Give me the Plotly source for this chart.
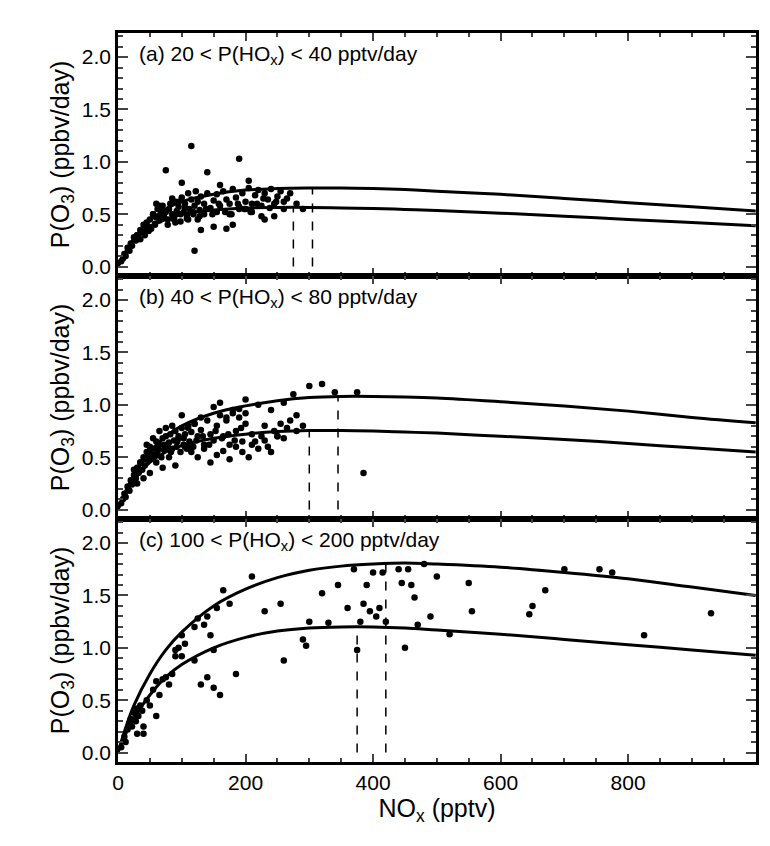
import plotly.graph_objects as go
from plotly.subplots import make_subplots

# curve x grid (pptv)
curve_x = [0, 10, 25, 50, 75, 100, 150, 200, 250, 300, 350, 400, 450, 500, 600, 700, 800, 900, 1000]

# panel (a) 20 < P(HOx) < 40
a_up = [0.0, 0.12, 0.27, 0.44, 0.55, 0.62, 0.69, 0.73, 0.745, 0.75, 0.75, 0.745, 0.735, 0.72, 0.69, 0.65, 0.61, 0.57, 0.53]
a_lo = [0.0, 0.11, 0.24, 0.38, 0.45, 0.50, 0.54, 0.56, 0.565, 0.565, 0.56, 0.555, 0.545, 0.535, 0.51, 0.48, 0.45, 0.42, 0.39]
a_dash = [275, 305]
a_dash_top = [0.56, 0.75]
a_x = [5, 8, 10, 12, 15, 18, 20, 22, 25, 28, 30, 32, 35, 38, 40, 42, 45, 48, 50, 52, 55, 58, 60, 62, 65, 68, 70, 72, 75,
       78, 80, 82, 85, 88, 90, 92, 95, 98, 100, 103, 105, 108, 110, 112, 115, 118, 120, 122, 125, 128, 130, 135, 140,
       145, 150, 155, 160, 165, 170, 175, 180, 185, 190, 195, 200, 205, 210, 215, 220, 225, 230, 235, 240, 245, 250,
       255, 260, 265, 270, 280, 290, 75, 115, 190, 140, 205, 100, 160, 60, 40, 90, 130, 190, 120, 170, 150, 85, 110, 225,
       55, 65, 95, 135, 180, 210, 245, 30, 45, 70, 105, 125, 155, 175, 200, 230, 260,
       35, 48, 58, 68, 78, 88, 98, 108, 118, 128, 138, 148, 158, 168, 178, 188, 198, 208, 218, 228, 238, 248]
a_y = [0.05, 0.08, 0.12, 0.1, 0.18, 0.15, 0.22, 0.2, 0.28, 0.25, 0.3, 0.27, 0.35, 0.33, 0.4, 0.3, 0.42, 0.38, 0.45, 0.36,
       0.5, 0.41, 0.47, 0.55, 0.44, 0.5, 0.58, 0.48, 0.52, 0.45, 0.55, 0.6, 0.5, 0.47, 0.62, 0.53, 0.57, 0.43, 0.66, 0.52,
       0.6, 0.49, 0.7, 0.55, 0.64, 0.5, 0.58, 0.72, 0.62, 0.54, 0.67, 0.6, 0.7, 0.56, 0.63, 0.69, 0.58, 0.72, 0.64, 0.6,
       0.74, 0.66, 0.57, 0.7, 0.62, 0.75, 0.6, 0.68, 0.73, 0.58, 0.7, 0.64, 0.74, 0.6, 0.67, 0.72, 0.62, 0.65, 0.7, 0.6,
       0.55, 0.92, 1.15, 1.03, 0.9, 0.82, 0.8, 0.78, 0.6, 0.33, 0.42, 0.35, 0.55, 0.15, 0.36, 0.38, 0.65, 0.45, 0.48,
       0.5, 0.58, 0.62, 0.5, 0.4, 0.52, 0.48, 0.3, 0.36, 0.53, 0.56, 0.45, 0.52, 0.5, 0.55, 0.45, 0.55,
       0.26, 0.34, 0.4, 0.46, 0.4, 0.45, 0.5, 0.46, 0.52, 0.48, 0.55, 0.5, 0.6, 0.52, 0.5, 0.6, 0.55, 0.52, 0.6, 0.65,
       0.56, 0.62]

# panel (b) 40 < P(HOx) < 80
b_up = [0.0, 0.15, 0.33, 0.55, 0.7, 0.8, 0.92, 0.99, 1.04, 1.07, 1.08, 1.08, 1.075, 1.065, 1.03, 0.99, 0.94, 0.88, 0.83]
b_lo = [0.0, 0.13, 0.28, 0.45, 0.55, 0.61, 0.68, 0.72, 0.745, 0.755, 0.755, 0.75, 0.74, 0.73, 0.70, 0.67, 0.63, 0.59, 0.55]
b_dash = [300, 345]
b_dash_top = [0.755, 1.08]
b_x = [5, 8, 10, 12, 15, 18, 20, 22, 25, 28, 30, 32, 35, 38, 40, 42, 45, 48, 50, 52, 55, 58, 60, 62, 65, 68, 70, 72, 75,
       78, 80, 82, 85, 88, 90, 92, 95, 98, 100, 103, 105, 108, 110, 112, 115, 118, 120, 125, 130, 135, 140, 145, 150,
       155, 160, 165, 170, 175, 180, 185, 190, 195, 200, 210, 220, 230, 240, 250, 260, 270, 280, 290, 60, 70, 80, 90,
       45, 55, 65, 75, 85, 95, 105, 115, 125, 135, 145, 155, 165, 175, 185, 195, 205, 215, 225, 235, 245, 255, 265, 50,
       40, 30, 35, 25, 150, 160, 170, 180, 190, 200, 210, 220, 230, 250, 275, 300, 320, 340, 375, 385, 260, 280, 240,
       200, 130, 120, 110, 100,
       33, 43, 53, 63, 73, 83, 93, 103, 113, 123, 133, 143, 153, 163, 173, 183, 193]
b_y = [0.06, 0.1, 0.15, 0.12, 0.22, 0.18, 0.28, 0.24, 0.33, 0.3, 0.4, 0.35, 0.45, 0.38, 0.5, 0.42, 0.55, 0.47, 0.6,
       0.5, 0.58, 0.52, 0.65, 0.55, 0.62, 0.5, 0.68, 0.57, 0.7, 0.6, 0.64, 0.72, 0.58, 0.66, 0.75, 0.6, 0.7, 0.55, 0.78,
       0.62, 0.72, 0.58, 0.8, 0.65, 0.74, 0.6, 0.82, 0.7, 0.76, 0.62, 0.85, 0.72, 0.66, 0.8, 0.9, 0.7, 0.85, 0.62, 0.95,
       0.75, 0.88, 0.65, 0.92, 0.72, 1.0, 0.8, 0.95, 0.7, 1.02, 0.85, 0.9, 0.8, 0.45, 0.4, 0.5, 0.42, 0.62, 0.68, 0.75,
       0.78, 0.8, 0.68, 0.6, 0.55, 0.5, 0.58, 0.45, 0.52, 0.56, 0.48, 0.6, 0.55, 0.5, 0.65, 0.7, 0.6, 0.75, 0.82, 0.78,
       0.35, 0.3, 0.25, 0.45, 0.38, 0.98, 1.02, 0.88, 0.92, 0.96, 1.05, 0.62, 0.58, 0.66, 0.7, 1.1, 1.18, 1.2, 1.12, 1.12,
       0.35, 0.68, 0.75, 0.55, 0.82, 0.88, 0.82, 0.78, 0.9,
       0.36, 0.48, 0.52, 0.58, 0.62, 0.55, 0.65, 0.68, 0.6, 0.66, 0.7, 0.62, 0.75, 0.68, 0.72, 0.66, 0.78]

# panel (c) 100 < P(HOx) < 200
c_up = [0.0, 0.2, 0.45, 0.75, 0.98, 1.15, 1.4, 1.56, 1.67, 1.74, 1.78, 1.8, 1.81, 1.8, 1.77, 1.72, 1.66, 1.58, 1.5]
c_lo = [0.0, 0.15, 0.33, 0.55, 0.72, 0.84, 1.0, 1.1, 1.16, 1.19, 1.2, 1.2, 1.19, 1.17, 1.13, 1.08, 1.03, 0.98, 0.93]
c_dash = [375, 420]
c_dash_top = [1.2, 1.81]
c_x = [5, 10, 12, 15, 18, 20, 22, 25, 28, 30, 32, 35, 38, 40, 45, 50, 55, 60, 65, 70, 75, 80, 85, 90, 95, 100, 105, 120,
       125, 130, 135, 140, 145, 150, 155, 165, 175, 185, 210, 230, 255, 260, 290, 295, 300, 320, 330, 345, 360, 370,
       375, 380, 385, 390, 395, 400, 405, 410, 415, 420, 440, 445, 450, 455, 460, 465, 470, 480, 490, 500, 520, 550,
       555, 645, 650, 670, 700, 755, 775, 825, 930, 150, 140, 160, 120, 100, 90, 60, 40, 30]
c_y = [0.05, 0.15, 0.1, 0.22, 0.28, 0.32, 0.25, 0.38, 0.3, 0.42, 0.35, 0.45, 0.4, 0.18, 0.5, 0.45, 0.6, 0.68, 0.55, 0.7,
       0.72, 0.65, 0.75, 0.92, 1.0, 1.12, 1.04, 0.88, 1.28, 0.65, 1.22, 1.3, 1.12, 0.98, 1.38, 1.55, 1.42, 0.75, 1.68,
       1.35, 1.42, 0.88, 1.08, 1.02, 1.25, 1.52, 1.24, 1.6, 1.38, 1.75, 0.98, 1.25, 1.42, 1.6, 1.35, 1.72, 1.3, 1.38,
       1.72, 1.25, 1.75, 1.62, 1.0, 1.75, 1.6, 1.48, 1.22, 1.8, 1.3, 1.68, 1.13, 1.62, 1.35, 1.32, 1.4, 1.55, 1.75, 1.75,
       1.72, 1.12, 1.33, 0.62, 0.72, 0.55, 1.2, 0.92, 0.98, 0.35, 0.25, 0.18]

labels = ["(a) 20 < P(HO<sub>x</sub>) < 40 pptv/day",
          "(b) 40 < P(HO<sub>x</sub>) < 80 pptv/day",
          "(c) 100 < P(HO<sub>x</sub>) < 200 pptv/day"]

panels = [(a_x, a_y, a_up, a_lo, a_dash, a_dash_top),
          (b_x, b_y, b_up, b_lo, b_dash, b_dash_top),
          (c_x, c_y, c_up, c_lo, c_dash, c_dash_top)]

fig = make_subplots(rows=3, cols=1, shared_xaxes=True, vertical_spacing=0)

for i, (px, py, up, lo, dx, dtop) in enumerate(panels):
    r = i + 1
    fig.add_trace(go.Scatter(x=px, y=py, mode="markers",
                             marker=dict(color="black", size=6.5)), row=r, col=1)
    for cy in (up, lo):
        fig.add_trace(go.Scatter(x=curve_x, y=cy, mode="lines", line_shape="spline",
                                 line=dict(color="black", width=3)), row=r, col=1)
    for xv, yt in zip(dx, dtop):
        fig.add_trace(go.Scatter(x=[xv, xv], y=[0, yt], mode="lines",
                                 line=dict(color="black", width=1.5, dash="dash")), row=r, col=1)
    fig.add_annotation(text=labels[i], xref="x domain", yref="y domain", x=0.03, y=0.97,
                       xanchor="left", yanchor="top", showarrow=False,
                       font=dict(size=21, color="black"), row=r, col=1)
    fig.update_yaxes(range=[-0.09, 2.23], tickvals=[0, 0.5, 1.0, 1.5, 2.0],
                     ticktext=["0.0", "0.5", "1.0", "1.5", "2.0"],
                     ticks="inside", ticklen=10, tickwidth=2, mirror="allticks",
                     minor=dict(dtick=0.1, ticks="inside", ticklen=5, tickwidth=1.5),
                     showline=True, linecolor="black", linewidth=2.5, showgrid=False, zeroline=False,
                     title=dict(text="P(O<sub>3</sub>) (ppbv/day)", standoff=6), row=r, col=1)
    fig.update_xaxes(range=[0, 1000.5], tickvals=[0, 200, 400, 600, 800, 1000], ticks="inside",
                     ticklen=8, tickwidth=2, mirror="allticks",
                     minor=dict(dtick=50, ticks="inside", ticklen=4, tickwidth=1.5),
                     showline=True, linecolor="black", linewidth=2.5, showgrid=False, zeroline=False,
                     row=r, col=1)

fig.update_xaxes(title=dict(text="NO<sub>x</sub> (pptv)", standoff=4), row=3, col=1)

fig.update_layout(width=770, height=846, showlegend=False,
                  paper_bgcolor="white", plot_bgcolor="white",
                  margin=dict(l=110, r=22, t=25, b=92),
                  font=dict(family="Liberation Sans, Arial", size=21, color="black"))

fig.write_html("out.html")
